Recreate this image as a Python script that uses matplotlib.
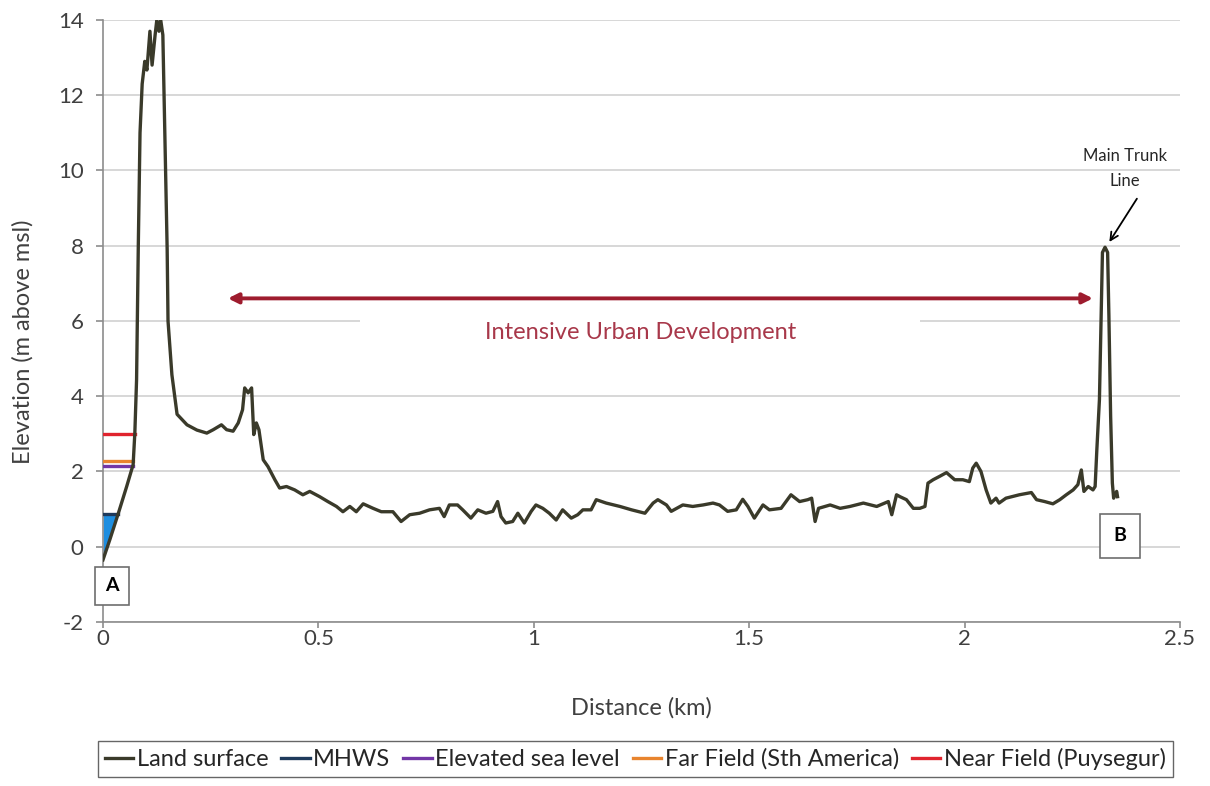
import numpy as np
import matplotlib
matplotlib.use('Agg')
import matplotlib.pyplot as plt
from matplotlib.patches import Rectangle
from matplotlib.ticker import FuncFormatter

plt.rcParams['font.family'] = ['Lato', 'DejaVu Sans']

# land surface profile (km, m above msl)
distance = [
    0.000, 0.016, 0.036, 0.055, 0.070, 0.074, 0.078, 0.082, 0.086, 0.091,
    0.097, 0.102, 0.109, 0.114, 0.121, 0.125, 0.130, 0.134, 0.139, 0.144,
    0.149, 0.151, 0.160, 0.172, 0.195, 0.218, 0.241, 0.256, 0.275, 0.287,
    0.302, 0.314, 0.324, 0.329, 0.337, 0.345, 0.350, 0.356, 0.362, 0.372,
    0.383, 0.399, 0.410, 0.426, 0.445, 0.464, 0.480, 0.503, 0.522, 0.542,
    0.557, 0.573, 0.588, 0.604, 0.627, 0.646, 0.673, 0.692, 0.712, 0.735,
    0.758, 0.781, 0.792, 0.804, 0.823, 0.835, 0.854, 0.870, 0.889, 0.905,
    0.916, 0.924, 0.935, 0.951, 0.963, 0.978, 0.994, 1.005, 1.021, 1.036,
    1.052, 1.067, 1.087, 1.102, 1.114, 1.133, 1.145, 1.168, 1.200, 1.227,
    1.258, 1.277, 1.288, 1.308, 1.319, 1.346, 1.369, 1.393, 1.416, 1.431,
    1.450, 1.470, 1.485, 1.497, 1.512, 1.532, 1.547, 1.574, 1.597, 1.617,
    1.636, 1.645, 1.653, 1.661, 1.688, 1.711, 1.734, 1.765, 1.796, 1.823,
    1.831, 1.842, 1.850, 1.865, 1.881, 1.896, 1.908, 1.915, 1.927, 1.942,
    1.958, 1.977, 1.996, 2.011, 2.019, 2.027, 2.038, 2.050, 2.061, 2.073,
    2.080, 2.096, 2.127, 2.155, 2.167, 2.186, 2.205, 2.221, 2.236, 2.252,
    2.263, 2.271, 2.277, 2.287, 2.298, 2.303, 2.307, 2.313, 2.317, 2.320,
    2.326, 2.332, 2.335, 2.339, 2.343, 2.346, 2.353, 2.355,
]
elevation = [
    -0.35, 0.19, 0.90, 1.60, 2.18, 3.03, 4.44, 8.00, 11.00, 12.30,
    12.90, 12.67, 13.70, 12.80, 13.60, 14.00, 13.70, 14.00, 13.60, 10.80,
    7.90, 6.00, 4.57, 3.52, 3.24, 3.10, 3.02, 3.11, 3.24, 3.11,
    3.07, 3.29, 3.64, 4.22, 4.09, 4.22, 2.98, 3.29, 3.11, 2.31,
    2.13, 1.78, 1.56, 1.60, 1.51, 1.38, 1.47, 1.33, 1.20, 1.07,
    0.93, 1.07, 0.93, 1.14, 1.02, 0.93, 0.93, 0.67, 0.85, 0.89,
    0.98, 1.02, 0.80, 1.11, 1.11, 0.98, 0.76, 0.98, 0.89, 0.94,
    1.20, 0.80, 0.63, 0.67, 0.89, 0.63, 0.94, 1.11, 1.02, 0.89,
    0.71, 0.98, 0.76, 0.85, 0.98, 0.98, 1.25, 1.16, 1.07, 0.98,
    0.89, 1.16, 1.25, 1.11, 0.94, 1.11, 1.07, 1.11, 1.16, 1.11,
    0.94, 0.98, 1.26, 1.07, 0.76, 1.11, 0.98, 1.02, 1.38, 1.20,
    1.25, 1.29, 0.67, 1.02, 1.11, 1.02, 1.07, 1.16, 1.07, 1.20,
    0.85, 1.38, 1.33, 1.25, 1.02, 1.02, 1.07, 1.69, 1.78, 1.87,
    1.97, 1.78, 1.78, 1.73, 2.09, 2.22, 2.00, 1.51, 1.16, 1.29,
    1.16, 1.29, 1.38, 1.44, 1.25, 1.20, 1.14, 1.25, 1.38, 1.51,
    1.65, 2.04, 1.47, 1.60, 1.51, 1.60, 2.58, 3.91, 6.13, 7.82,
    7.96, 7.82, 6.13, 3.47, 1.69, 1.29, 1.47, 1.33,
]

# water levels (m above msl)
level_names = ['MHWS', 'Elevated sea level', 'Far Field (Sth America)',
               'Near Field (Puysegur)']
level_values = [0.86, 2.14, 2.29, 3.0]
level_colors = ['#1F3A5C', '#7236A6', '#E8842E', '#E0242E']

land_color = '#3A3A2A'
dev_color = '#9E1C2E'

dist = np.array(distance)
elev = np.array(elevation)

fig = plt.figure(figsize=(12.1, 7.86), dpi=100)
ax = fig.add_axes([0.0851, 0.2087, 0.8901, 0.7659])

ax.set_xlim(0, 2.5)
ax.set_ylim(-2, 14)
ax.set_xticks(np.arange(0, 2.51, 0.5))
ax.set_yticks(np.arange(-2, 14.1, 2))
fmt = FuncFormatter(lambda v, p: '{:g}'.format(v))
ax.xaxis.set_major_formatter(fmt)
ax.yaxis.set_major_formatter(fmt)
ax.grid(axis='y', color='#D4D4D4', linewidth=1.3, zorder=0)
ax.set_axisbelow(True)
for s in ['top', 'right']:
    ax.spines[s].set_visible(False)
for s in ['left', 'bottom']:
    ax.spines[s].set_color('#8C8C8C')
    ax.spines[s].set_linewidth(1.2)
ax.tick_params(axis='both', colors='#8C8C8C', width=1.2,
               labelcolor='#404040', labelsize=16)
ax.tick_params(axis='y', length=5, pad=9)
ax.tick_params(axis='x', length=4, pad=1)

ax.set_xlabel('Distance (km)', fontsize=17, color='#404040')
ax.xaxis.set_label_coords(0.5, -0.125)
ax.set_ylabel('Elevation (m above msl)', fontsize=17, color='#404040')
ax.yaxis.set_label_coords(-0.064, 0.465)

# the seaward rise, used to find where each level meets the land
n_rise = int(np.argmax(elev >= 4.0))
rise_d = dist[:n_rise + 1]
rise_e = elev[:n_rise + 1]

# MHWS water body
mhws = level_values[0]
d_fill = np.linspace(0, np.interp(mhws, rise_e, rise_d), 40)
ax.fill_between(d_fill, np.interp(d_fill, rise_d, rise_e), mhws,
                color='#1E8EE0', linewidth=0, zorder=2)

handles = []
h, = ax.plot(dist, elev, color=land_color, linewidth=2.4, zorder=4,
             label='Land surface')
handles.append(h)
for name, val, col in zip(level_names, level_values, level_colors):
    d_end = np.interp(val, rise_e, rise_d)
    h, = ax.plot([0, d_end], [val, val], color=col, linewidth=2.4,
                 zorder=3, label=name)
    handles.append(h)

# white box behind the development label (breaks the 6 m gridline)
ax.add_patch(Rectangle((0.597, 5.35), 1.30, 0.8, facecolor='white',
                       edgecolor='none', zorder=1))
ax.annotate('', xy=(0.29, 6.6), xytext=(2.298, 6.6),
            arrowprops=dict(arrowstyle='<|-|>', color=dev_color, lw=2.8,
                            mutation_scale=15, shrinkA=0, shrinkB=0),
            zorder=5)
ax.text(1.249, 5.7, 'Intensive Urban Development', color='#A8384A',
        fontsize=17, ha='center', va='center', zorder=5)

# main trunk line callout
ax.text(2.372, 10.05, 'Main Trunk\nLine', fontsize=12, color='#262626',
        ha='center', va='center', linespacing=1.7, zorder=5)
ax.annotate('', xy=(2.336, 8.1), xytext=(2.40, 9.25),
            arrowprops=dict(arrowstyle='->', color='black', lw=1.3,
                            mutation_scale=14, shrinkA=0, shrinkB=0),
            zorder=5)

# end markers
box = dict(boxstyle='square,pad=0.55', facecolor='white',
           edgecolor='#6E6E6E', linewidth=1.2)
ax.text(0.021, -1.04, 'A', fontsize=14, fontweight='bold', ha='center',
        va='center', bbox=box, zorder=6, clip_on=False)
box_b = dict(box, boxstyle='square,pad=0.7')
ax.text(2.361, 0.29, 'B', fontsize=14, fontweight='bold', ha='center',
        va='center', bbox=box_b, zorder=6)

leg = fig.legend(handles=handles, loc='center', bbox_to_anchor=(0.525, 0.0344),
                 ncol=5, fontsize=17, frameon=True, fancybox=False,
                 edgecolor='#404040', handlelength=1.2, handletextpad=0.15,
                 columnspacing=0.55, borderpad=0.3, borderaxespad=0)
leg.get_frame().set_linewidth(1.0)
for t in leg.get_texts():
    t.set_color('#262626')

fig.savefig('out.png', dpi=100)
